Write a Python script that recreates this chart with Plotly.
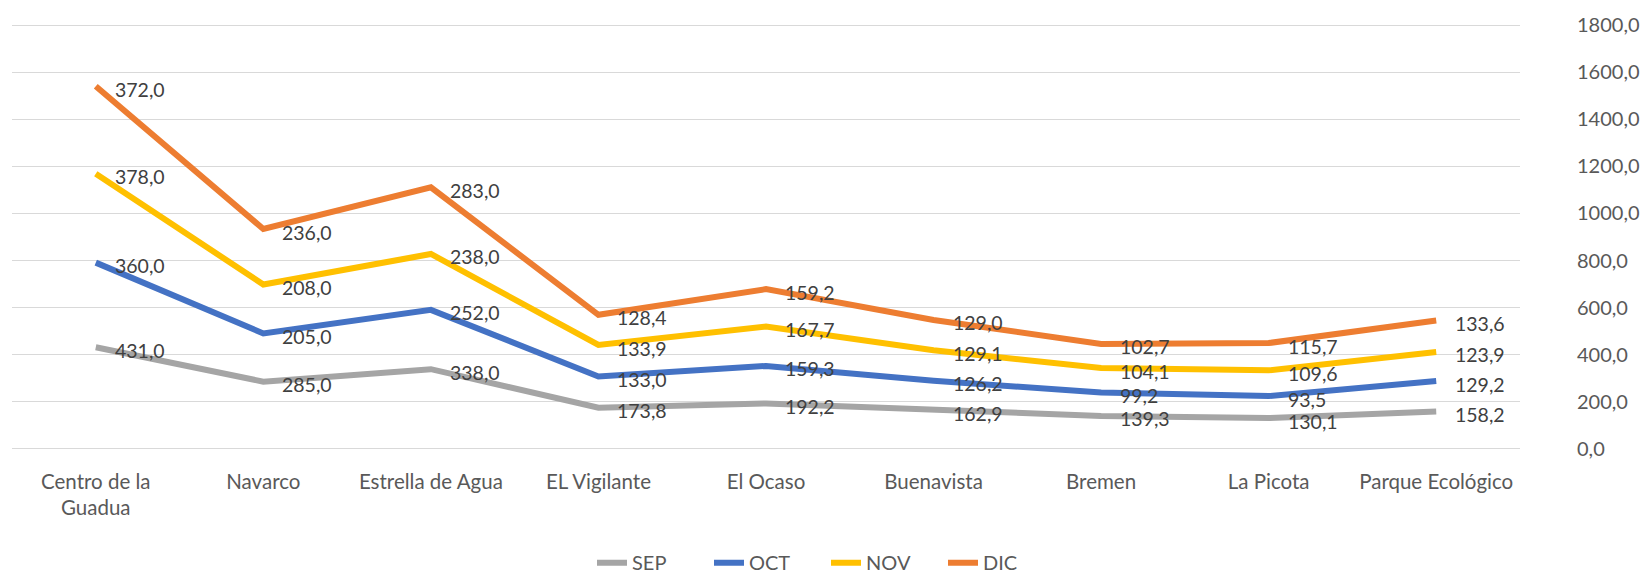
import numpy as np
import plotly.graph_objects as go

categories = ["Centro de la<br>Guadua", "Navarco", "Estrella de Agua", "EL Vigilante", "El Ocaso",
              "Buenavista", "Bremen", "La Picota", "Parque Ecológico"]
series_names = ["SEP", "OCT", "NOV", "DIC"]
sep = [431.0, 285.0, 338.0, 173.8, 192.2, 162.9, 139.3, 130.1, 158.2]
oct_ = [360.0, 205.0, 252.0, 133.0, 159.3, 126.2, 99.2, 93.5, 129.2]
nov = [378.0, 208.0, 238.0, 133.9, 167.7, 129.1, 104.1, 109.6, 123.9]
dic = [372.0, 236.0, 283.0, 128.4, 159.2, 129.0, 102.7, 115.7, 133.6]
colors = ["#A5A5A5", "#4472C4", "#FFC000", "#ED7D31"]
y_ticks = [0, 200, 400, 600, 800, 1000, 1200, 1400, 1600, 1800]
y_tick_labels = [f"{v:.1f}".replace(".", ",") for v in y_ticks]

series = [sep, oct_, nov, dic]
cum = np.cumsum(np.array(series), axis=0)

FONT = "Lato"
fig = go.Figure()
annotations = []
for name, vals, c, color in zip(series_names, series, cum, colors):
    fig.add_trace(go.Scatter(
        x=categories, y=c, mode="lines", name=name,
        line=dict(color=color, width=6, shape="linear"),
        hoverinfo="skip",
    ))
    for cat, v, yc in zip(categories, vals, c):
        annotations.append(dict(
            x=cat, y=yc, xref="x", yref="y", text=f"{v:.1f}".replace(".", ","),
            showarrow=False, xanchor="left", yanchor="middle", xshift=17, yshift=-3,
            font=dict(family=FONT, size=19.5, color="#404040"),
        ))

fig.update_layout(
    width=1652, height=573,
    margin=dict(l=12, r=126, t=21, b=122),
    plot_bgcolor="white", paper_bgcolor="white",
    annotations=annotations,
    showlegend=True,
    legend=dict(orientation="h", xref="container", yref="container", x=0.5, xanchor="center",
                y=0.018, yanchor="middle", font=dict(family=FONT, size=20, color="#595959"),
                entrywidth=72, entrywidthmode="pixels", tracegroupgap=0),
    font=dict(family=FONT, color="#595959"),
)
fig.update_xaxes(
    showgrid=False, showline=False, zeroline=False, ticks="",
    range=[-0.5, len(categories) - 0.5],
    tickfont=dict(family=FONT, size=20.5, color="#595959"),
    ticklabelstandoff=16,
)
fig.update_yaxes(
    side="right", range=[-10, 1810], tickvals=y_ticks, ticktext=y_tick_labels,
    showgrid=True, gridcolor="#D9D9D9", gridwidth=1.3, zeroline=False, showline=False,
    tickfont=dict(family=FONT, size=20, color="#595959"), ticks="",
    ticklabelstandoff=56,
)
fig.write_html("out.html", config={"displayModeBar": False},
               post_script="document.body.style.margin='0';document.body.style.overflow='hidden';")
